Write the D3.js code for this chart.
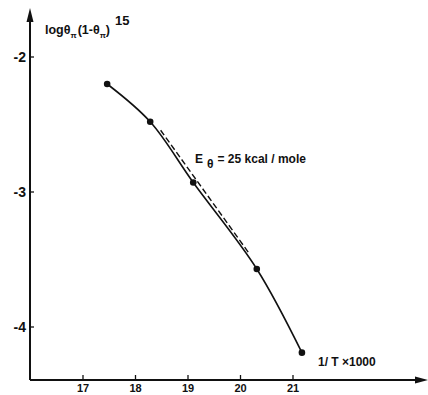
<!DOCTYPE html>
<html>
<head>
<meta charset="utf-8">
<script src="https://cdn.jsdelivr.net/npm/d3@7"></script>
<style>
body{margin:0;background:#fff;}
text{font-family:"Liberation Sans",Arial,sans-serif;font-weight:bold;fill:#111;}
</style>
</head>
<body>
<div id="container"></div>
<script>
// data
var invT = [17.46, 18.28, 19.1, 20.31, 21.17];
var logVals = [-2.2, -2.48, -2.93, -3.57, -4.19];
var dashX = [18.45, 20.15];
var dashY = [-2.55, -3.47];
var xTicks = [17, 18, 19, 20, 21];
var yTicks = [-2, -3, -4];

var w = 428, h = 395;
var ax0 = 30, ay0 = 380; // axis corner

var svg = d3.select("#container").append("svg").attr("width",w).attr("height",h);

var x = d3.scaleLinear().domain([17,21]).range([83,293]);
var y = d3.scaleLinear().domain([-2,-4]).range([57,327]);

// axes lines
svg.append("line").attr("x1",ax0).attr("x2",ax0).attr("y1",18).attr("y2",ay0)
	.attr("stroke","#111").attr("stroke-width",2);
svg.append("line").attr("x1",ax0).attr("x2",w-6).attr("y1",ay0).attr("y2",ay0)
	.attr("stroke","#111").attr("stroke-width",2);
// arrow heads
svg.append("path").attr("d","M"+ax0+",8 L"+(ax0-3.5)+",22 L"+(ax0+3.5)+",22 Z").attr("fill","#111");
svg.append("path").attr("d","M"+w+","+ay0+" L"+(w-13)+","+(ay0-3.5)+" L"+(w-13)+","+(ay0+3.5)+" Z").attr("fill","#111");

// x ticks
svg.selectAll(".xt").data(xTicks).enter().append("line")
	.attr("x1",function(d){return x(d);}).attr("x2",function(d){return x(d);})
	.attr("y1",ay0).attr("y2",ay0-5)
	.attr("stroke","#111").attr("stroke-width",1.3);
svg.selectAll(".xl").data(xTicks).enter().append("text")
	.attr("x",function(d){return x(d);}).attr("y",392)
	.attr("text-anchor","middle").attr("font-size",11)
	.text(function(d){return d;});

// y ticks
svg.selectAll(".yt").data(yTicks).enter().append("line")
	.attr("x1",ax0).attr("x2",ax0+4)
	.attr("y1",function(d){return y(d);}).attr("y2",function(d){return y(d);})
	.attr("stroke","#111").attr("stroke-width",1.3);
svg.selectAll(".yl").data(yTicks).enter().append("text")
	.attr("x",ax0-4).attr("y",function(d){return y(d)+5;})
	.attr("text-anchor","end").attr("font-size",14)
	.text(function(d){return "-"+Math.abs(d);});

// dashed line
svg.append("line")
	.attr("x1",x(dashX[0])).attr("y1",y(dashY[0]))
	.attr("x2",x(dashX[1])).attr("y2",y(dashY[1]))
	.attr("stroke","#111").attr("stroke-width",1.4)
	.attr("stroke-dasharray","6,3")
	.attr("transform","translate(1.5,-1)");

// solid curve
var pts = invT.map(function(d,i){return [d,logVals[i]];});
var line = d3.line().x(function(d){return x(d[0]);}).y(function(d){return y(d[1]);})
	.curve(d3.curveCatmullRom);
svg.append("path").attr("d",line(pts)).attr("fill","none")
	.attr("stroke","#111").attr("stroke-width",1.6);

svg.selectAll(".pt").data(pts).enter().append("circle")
	.attr("cx",function(d){return x(d[0]);}).attr("cy",function(d){return y(d[1]);})
	.attr("r",3.3).attr("fill","#111");

// y label
var yl = svg.append("text").attr("x",45).attr("y",34).attr("font-size",12.5);
yl.append("tspan").text("logθ");
yl.append("tspan").attr("font-size",8).attr("dy",4).text("π");
yl.append("tspan").attr("dy",-4).attr("dx",1).text("(1-θ");
yl.append("tspan").attr("font-size",8).attr("dy",4).text("π");
yl.append("tspan").attr("dy",-4).text(")");
yl.append("tspan").attr("font-size",13).attr("dy",-9).attr("dx",5).text("15");

// E label
var el = svg.append("text").attr("x",195).attr("y",163).attr("font-size",12);
el.append("tspan").text("E");
el.append("tspan").attr("dy",5).attr("dx",4).attr("font-size",12).text("θ");
el.append("tspan").attr("dy",-5).attr("dx",4).text("= 25 kcal / mole");

// x label
svg.append("text").attr("x",318).attr("y",366).attr("font-size",12).text("1/ T \u00d71000");
</script>
</body>
</html>
